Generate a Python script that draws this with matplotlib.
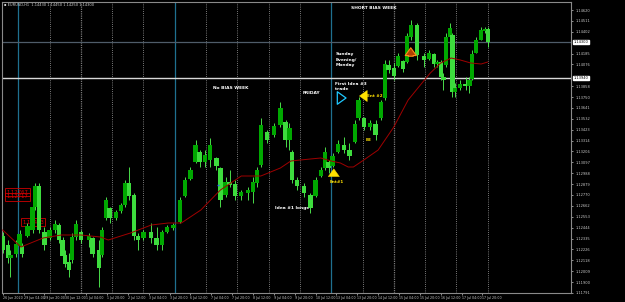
import matplotlib
matplotlib.use('Agg')
import matplotlib.pyplot as plt
from matplotlib.transforms import blended_transform_factory

# свечи EURUSD H1: номер часа от начала 26 Jun, open / high / low / close
hours = [12, 16, 18, 22, 25, 27, 31, 35, 37, 40, 44, 48, 52, 55, 58, 60, 63, 65, 68, 72,
         78, 81, 86, 88, 91, 94, 99, 103, 106, 109, 113, 116, 120, 126, 130, 134, 138, 143, 148, 152,
         156, 160, 163, 167, 171, 176, 179, 183, 186, 190, 195, 200, 204, 207, 210, 215, 220, 225, 229, 232,
         234, 238, 243, 248, 252, 256, 259, 262, 265, 269, 274, 278, 282, 285, 289, 294, 298, 302, 305, 308,
         312, 315, 319, 322, 325, 330, 335, 339, 343, 345, 348, 350, 352, 355, 357, 359, 363, 367, 370, 372,
         375, 379, 382, 384]
opens = [1.1236, 1.1227, 1.1214, 1.1218, 1.1226, 1.1226, 1.1236, 1.1242, 1.1265, 1.1286,
         1.1240, 1.1234, 1.1242, 1.1247, 1.1232, 1.1217, 1.1210, 1.1212, 1.1235, 1.1240,
         1.1232, 1.1234, 1.1222, 1.1217, 1.1254, 1.1264, 1.1254, 1.1261, 1.1267, 1.1289,
         1.1277, 1.1236, 1.1234, 1.1240, 1.1234, 1.1227, 1.1240, 1.1244, 1.1250, 1.1276,
         1.1293, 1.1310, 1.1320, 1.1310, 1.1312, 1.1314, 1.1304, 1.1277, 1.1290, 1.1288,
         1.1276, 1.1279, 1.1280, 1.1289, 1.1307, 1.1340, 1.1337, 1.1347, 1.1350, 1.1332,
         1.1320, 1.1292, 1.1286, 1.1277, 1.1276, 1.1296, 1.1304, 1.1310, 1.1306, 1.1320,
         1.1327, 1.1322, 1.1330, 1.1354, 1.1354, 1.1345, 1.1348, 1.1354, 1.1374, 1.1407,
         1.1404, 1.1406, 1.1411, 1.1410, 1.1435, 1.1447, 1.1416, 1.1413, 1.1418, 1.1408,
         1.1410, 1.1395, 1.1407, 1.1435, 1.1437, 1.1380, 1.1384, 1.1388, 1.1386, 1.1393,
         1.1419, 1.1432, 1.1441, 1.1443]
highs = [1.1240, 1.1232, 1.1222, 1.1232, 1.1242, 1.1229, 1.1249, 1.1269, 1.1289, 1.1289,
         1.1245, 1.1245, 1.1252, 1.1249, 1.1235, 1.1222, 1.1219, 1.1239, 1.1252, 1.1242,
         1.1239, 1.1235, 1.1232, 1.1245, 1.1275, 1.1265, 1.1262, 1.1269, 1.1292, 1.1305,
         1.1279, 1.1239, 1.1242, 1.1249, 1.1245, 1.1242, 1.1247, 1.1249, 1.1275, 1.1295,
         1.1305, 1.1332, 1.1322, 1.1322, 1.1334, 1.1315, 1.1305, 1.1295, 1.1302, 1.1292,
         1.1282, 1.1285, 1.1295, 1.1305, 1.1354, 1.1342, 1.1349, 1.1370, 1.1352, 1.1349,
         1.1322, 1.1295, 1.1289, 1.1279, 1.1295, 1.1305, 1.1325, 1.1312, 1.1319, 1.1332,
         1.1335, 1.1329, 1.1352, 1.1375, 1.1355, 1.1352, 1.1352, 1.1372, 1.1412, 1.1412,
         1.1409, 1.1419, 1.1412, 1.1439, 1.1452, 1.1449, 1.1419, 1.1422, 1.1419, 1.1412,
         1.1412, 1.1399, 1.1439, 1.1449, 1.1439, 1.1389, 1.1392, 1.1395, 1.1395, 1.1422,
         1.1435, 1.1445, 1.1445, 1.1445]
lows = [1.1219, 1.1209, 1.1195, 1.1215, 1.1222, 1.1215, 1.1235, 1.1239, 1.1262, 1.1239,
        1.1222, 1.1232, 1.1239, 1.1229, 1.1212, 1.1205, 1.1195, 1.1209, 1.1232, 1.1229,
        1.1225, 1.1215, 1.1185, 1.1215, 1.1252, 1.1249, 1.1252, 1.1259, 1.1265, 1.1272,
        1.1232, 1.1222, 1.1232, 1.1229, 1.1222, 1.1222, 1.1239, 1.1242, 1.1249, 1.1275,
        1.1292, 1.1309, 1.1305, 1.1305, 1.1305, 1.1302, 1.1265, 1.1275, 1.1285, 1.1272,
        1.1272, 1.1272, 1.1269, 1.1285, 1.1305, 1.1329, 1.1335, 1.1345, 1.1325, 1.1322,
        1.1289, 1.1282, 1.1275, 1.1259, 1.1275, 1.1295, 1.1302, 1.1299, 1.1305, 1.1319,
        1.1319, 1.1312, 1.1329, 1.1352, 1.1342, 1.1342, 1.1332, 1.1352, 1.1372, 1.1399,
        1.1392, 1.1405, 1.1400, 1.1409, 1.1432, 1.1412, 1.1405, 1.1412, 1.1405, 1.1405,
        1.1392, 1.1382, 1.1405, 1.1432, 1.1375, 1.1375, 1.1382, 1.1382, 1.1379, 1.1392,
        1.1419, 1.1432, 1.1439, 1.1425]
closes = [1.1222, 1.1214, 1.1217, 1.1228, 1.1238, 1.1218, 1.1246, 1.1265, 1.1286, 1.1242,
          1.1227, 1.1242, 1.1248, 1.1232, 1.1216, 1.1208, 1.1202, 1.1235, 1.1248, 1.1232,
          1.1236, 1.1218, 1.1204, 1.1242, 1.1272, 1.1254, 1.1260, 1.1267, 1.1289, 1.1276,
          1.1236, 1.1232, 1.1240, 1.1234, 1.1227, 1.1240, 1.1245, 1.1247, 1.1272, 1.1292,
          1.1302, 1.1327, 1.1310, 1.1317, 1.1327, 1.1306, 1.1272, 1.1290, 1.1287, 1.1276,
          1.1280, 1.1282, 1.1290, 1.1302, 1.1347, 1.1332, 1.1346, 1.1364, 1.1332, 1.1344,
          1.1292, 1.1286, 1.1279, 1.1264, 1.1292, 1.1302, 1.1320, 1.1304, 1.1316, 1.1328,
          1.1322, 1.1316, 1.1348, 1.1372, 1.1345, 1.1349, 1.1337, 1.1370, 1.1408, 1.1402,
          1.1396, 1.1416, 1.1403, 1.1436, 1.1447, 1.1417, 1.1412, 1.1419, 1.1408, 1.1410,
          1.1395, 1.1392, 1.1435, 1.1444, 1.1380, 1.1384, 1.1388, 1.1386, 1.1392, 1.1418,
          1.1432, 1.1442, 1.1443, 1.1430]

# скользящая средняя (красная)
ma_hours = [12, 26, 43, 57, 72, 87, 93, 110, 126, 139, 149, 164, 179, 195, 210, 225, 233, 248,
            256, 264, 271, 277, 281, 289, 300, 312, 323, 333, 340, 348, 356, 363, 371, 379, 384]
ma_vals = [1.1242, 1.1225, 1.1234, 1.1237, 1.1237, 1.1235, 1.1232, 1.1239, 1.1247, 1.1249,
           1.1249, 1.1262, 1.1282, 1.1296, 1.1296, 1.1304, 1.1311, 1.1313, 1.1314, 1.1311,
           1.1309, 1.1305, 1.1305, 1.1312, 1.1322, 1.1345, 1.1372, 1.1388, 1.1399, 1.1409,
           1.1414, 1.1412, 1.1409, 1.1408, 1.1410]

# шкала цен справа (метки 1.14294 и 1.13967 закрыты рамками цен)
price_ticks = [1.14620, 1.14511, 1.14402, 1.14185, 1.14076, 1.13858, 1.13750,
               1.13641, 1.13532, 1.13423, 1.13314, 1.13206, 1.13097, 1.12988, 1.12879, 1.12770,
               1.12662, 1.12553, 1.12444, 1.12335, 1.12226, 1.12118, 1.12009, 1.11900, 1.11791]

# метки времени
time_ticks = [12, 28, 44, 60, 76, 92, 108, 124, 140, 156, 172, 188, 204, 220, 236, 252,
              268, 284, 300, 316, 332, 348, 364, 380]
time_labels = ['26 Jun 2020', '29 Jun 04:00', '29 Jun 20:00', '30 Jun 12:00', '1 Jul 04:00',
               '1 Jul 20:00', '2 Jul 12:00', '3 Jul 04:00', '3 Jul 20:00', '6 Jul 12:00',
               '7 Jul 04:00', '7 Jul 20:00', '8 Jul 12:00', '9 Jul 04:00', '9 Jul 20:00',
               '10 Jul 12:00', '13 Jul 04:00', '13 Jul 20:00', '14 Jul 12:00', '15 Jul 04:00',
               '15 Jul 20:00', '16 Jul 12:00', '17 Jul 04:00', '17 Jul 20:00']

# разделители дней и недель
day_lines = [48, 96, 120, 168, 192, 216, 240, 288, 336, 360, 384]
dark_day_lines = [72, 312]
week_lines = [24, 144, 264]

cur_price = 1.1430
level_price = 1.1394

fig = plt.figure(figsize=(6.25, 3.02), dpi=100)
fig.patch.set_facecolor('black')
ax = fig.add_axes([2 / 625, 9 / 302, 569 / 625, 291 / 302])
ax.set_facecolor('black')
ax.set_xlim(11.5, 447.9)
ax.set_ylim(1.1179, 1.1470)

for x in day_lines:
    ax.axvline(x, color='#a0a0a0', lw=0.6, ls=(0, (1, 1.6)), zorder=1)
for x in dark_day_lines:
    ax.axvline(x, color='#777777', lw=0.9, ls=(0, (1, 0.8)), zorder=1)
for x in week_lines:
    ax.axvline(x, color='#1f7090', lw=0.9, zorder=1)

ax.axhline(cur_price, color='#4f5c69', lw=0.9, zorder=1)
ax.axhline(level_price, color='#d8d8d8', lw=1.0, zorder=1)

# свечи
wick_col = '#55ff55'
body_cols = ['#00a800' if c >= o else '#3ddc3d' for o, c in zip(opens, closes)]
ax.vlines(hours, lows, highs, color=wick_col, lw=0.6, zorder=3)
ax.bar(hours, [max(abs(c - o), 0.00006) for o, c in zip(opens, closes)],
       bottom=[min(o, c) for o, c in zip(opens, closes)], width=3.3,
       color=body_cols, edgecolor='none', zorder=4)

ax.plot(ma_hours, ma_vals, color='#a00000', lw=0.7, zorder=5)

# оси
ax.yaxis.tick_right()
ax.set_yticks(price_ticks)
ax.set_yticklabels([f'{p:.5f}' for p in price_ticks])
ax.set_xticks(time_ticks)
ax.set_xticklabels(time_labels, ha='left')
ax.tick_params(axis='y', colors='#c8c8c8', labelsize=2.6, length=1.5, width=0.5, pad=1.5)
ax.tick_params(axis='x', colors='#c8c8c8', labelsize=2.3, length=1.5, width=0.5, pad=1.0)
for s in ax.spines.values():
    s.set_color('#8a8a8a')
    s.set_linewidth(0.8)

trans = blended_transform_factory(ax.transAxes, ax.transData)
for p in [cur_price, level_price]:
    ax.text(1.004, p, f'{p:.5f}', transform=trans, fontsize=2.6, color='black', va='center',
            ha='left', bbox=dict(boxstyle='square,pad=0.1', fc='white', ec='white'), zorder=10)

fig.text(4 / 625, 1 - 5 / 302, '\u25aa EURUSD,H1  1.14430 1.14450 1.14250 1.14300',
         color='#d0d0d0', fontsize=2.6, va='center', ha='left')

# ценовые метки слева
red_box = dict(boxstyle='square,pad=0.25', fc='none', ec='#d00000', lw=0.6)
ax.text(15, 1.1280, '1.12767', color='#e00000', fontsize=3.8, va='center', ha='left', bbox=red_box)
ax.text(15, 1.1275, '1.12717', color='#e00000', fontsize=3.8, va='center', ha='left', bbox=red_box)
ax.text(27, 1.1250, '1.12493', color='#e00000', fontsize=3.8, va='center', ha='left', bbox=red_box)

# подписи
txt = dict(color='white', fontsize=3.2, fontweight='bold', zorder=8)
ax.text(297, 1.1464, 'SHORT BIAS WEEK', ha='center', va='center', **txt)
ax.text(267, 1.1420, 'Sunday\nEvening/\nMonday', ha='left', va='top', linespacing=1.5, **txt)
ax.text(267, 1.1390, 'First Idea #3\ntrade', ha='left', va='top', linespacing=1.5, **txt)
ax.text(173, 1.1384, 'No BIAS WEEK', ha='left', va='center', **txt)
ax.text(242, 1.1379, 'FRIDAY', ha='left', va='center', **txt)
ax.text(234, 1.1264, 'Idea #1 longs', ha='center', va='center', **txt)

ytxt = dict(color='#ffe000', fontsize=3.0, fontweight='bold', zorder=8)
ax.text(291.5, 1.1376, 'Ent #2', ha='left', va='center', **ytxt)
ax.text(268, 1.1290, 'Ent#1', ha='center', va='center', **ytxt)
ax.text(293, 1.1332, 'BE', ha='center', va='center', **ytxt)

# стрелки
ax.annotate('', xy=(277.5, 1.1374), xytext=(268.5, 1.1374), zorder=9,
            arrowprops=dict(arrowstyle='simple,head_width=1.0,head_length=0.7,tail_width=0.5',
                            fc='black', ec='#1ec8ff', lw=0.9, mutation_scale=9))
ax.annotate('', xy=(283.5, 1.1376), xytext=(290.5, 1.1376), zorder=9,
            arrowprops=dict(arrowstyle='simple,head_width=1.0,head_length=0.7,tail_width=0.45',
                            fc='#ffe000', ec='#ffe000', lw=0.3, mutation_scale=8))
ax.annotate('', xy=(266, 1.1306), xytext=(266, 1.1293), zorder=9,
            arrowprops=dict(arrowstyle='simple,head_width=1.0,head_length=0.7,tail_width=0.45',
                            fc='#ffe000', ec='#ffe000', lw=0.3, mutation_scale=8))
ax.annotate('', xy=(325, 1.1427), xytext=(325, 1.1413), zorder=9,
            arrowprops=dict(arrowstyle='simple,head_width=1.0,head_length=0.7,tail_width=0.45',
                            fc='#b04000', ec='#ff8c1a', lw=0.8, mutation_scale=8))

ax.plot([177], [1.1287], marker='_', color='#3060ff', ms=2, zorder=9)

fig.savefig('out.png', dpi=100, facecolor=fig.get_facecolor())
